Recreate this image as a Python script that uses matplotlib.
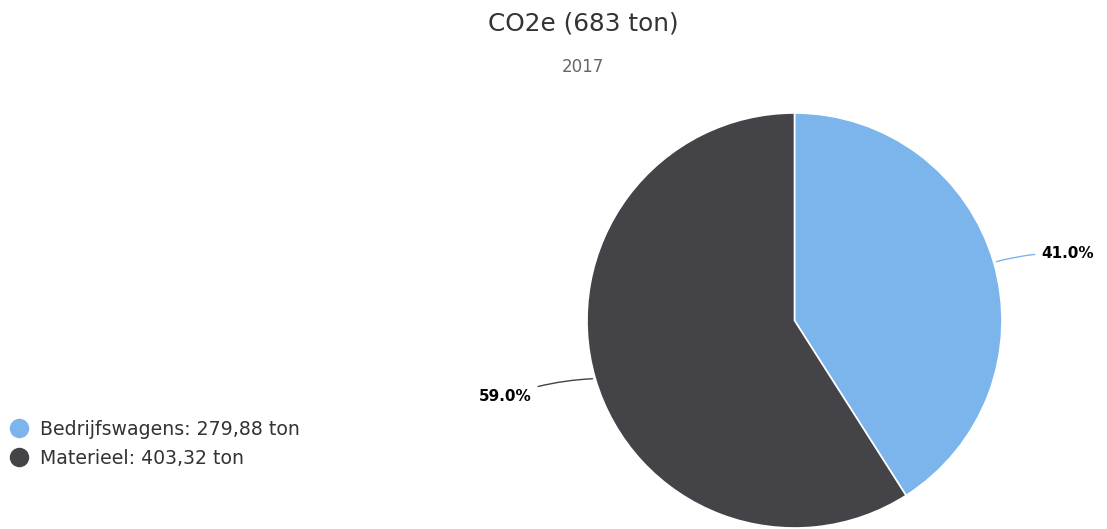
import matplotlib.pyplot as plt
import numpy as np
from matplotlib.lines import Line2D

plt.rcParams["font.family"] = ["DejaVu Sans"]

W, H = 1107, 529

categories = ["Bedrijfswagens", "Materieel"]
values = [279.88, 403.32]
colors = ["#7cb5ec", "#434348"]
title = "CO2e (683 ton)"
subtitle = "2017"

fig = plt.figure(figsize=(W / 100, H / 100), dpi=100)
ax = fig.add_axes([0, 0, 1, 1])

cx, cy, r = 794.5, H - 320.5, 207.5
wedges, _ = ax.pie(values, colors=colors, startangle=90, counterclock=False,
                   center=(cx, cy), radius=r, frame=True,
                   wedgeprops=dict(edgecolor="white", linewidth=1.2))
ax.set_xlim(0, W)
ax.set_ylim(0, H)
ax.set_aspect("equal")
ax.axis("off")

# label offsets (dx, dy) from the edge point of each slice
offsets = [(48, 9), (-64, -18)]

total = sum(values)
for w, v, (dx, dy) in zip(wedges, values, offsets):
    ang = np.deg2rad((w.theta1 + w.theta2) / 2)
    ex, ey = cx + r * np.cos(ang), cy + r * np.sin(ang)
    side = 1 if dx > 0 else -1
    ax.annotate(f"{v / total * 100:.1f}%", xy=(ex, ey), xytext=(ex + dx, ey + dy),
                ha="left" if side > 0 else "right", va="center",
                fontsize=11, fontweight="bold", color="black",
                arrowprops=dict(arrowstyle="-", color=w.get_facecolor(), lw=1,
                                shrinkA=3, shrinkB=-2,
                                connectionstyle=f"arc3,rad={0.08 * side}"))

fig.text(583 / W, 1 - 24 / H, title, ha="center", va="center",
         fontsize=17.8, color="#333333")
fig.text(583 / W, 1 - 67 / H, subtitle, ha="center", va="center",
         fontsize=12, color="#666666")

handles = [Line2D([], [], marker="o", linestyle="none", markersize=13,
                  markerfacecolor=c, markeredgecolor=c) for c in colors]
labels = [f"{c}: {v:.2f}".replace(".", ",") + " ton" for c, v in zip(categories, values)]
ax.legend(handles, labels, loc="upper left", bbox_to_anchor=(1 / W, 1 - 412 / H),
          frameon=False, fontsize=13.6, labelcolor="#333333", handletextpad=0.5,
          labelspacing=0.55, borderaxespad=0, handlelength=1.15)

fig.savefig("out.png", dpi=100, facecolor="white")
